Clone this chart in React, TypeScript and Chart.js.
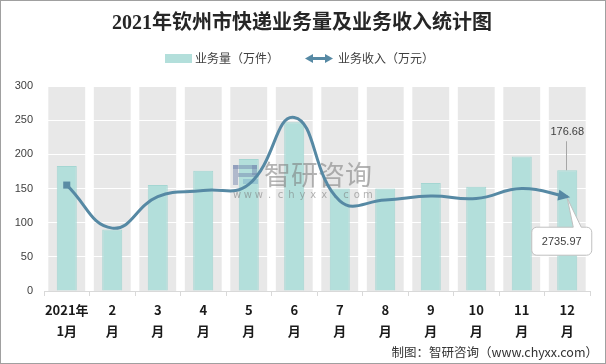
import { useEffect, useRef } from 'react';
import { Chart, registerables } from 'chart.js';

Chart.register(...registerables);

const categories: string[][] = [
  ['2021年', '1月'], ['2', '月'], ['3', '月'], ['4', '月'], ['5', '月'], ['6', '月'],
  ['7', '月'], ['8', '月'], ['9', '月'], ['10', '月'], ['11', '月'], ['12', '月'],
];
const volumeValues = [183, 90, 155, 176, 193, 247, 150, 150, 158, 152.5, 197, 176.68];
const revenueValues = [155, 92, 138, 147, 156, 254, 132, 133, 139, 135.5, 150, 138];
const yMin = 0;
const yMax = 300;
const yStep = 50;

const titleText = '2021年钦州市快递业务量及业务收入统计图';
const volumeLabel = '业务量（万件）';
const revenueLabel = '业务收入（万元）';
const revenueTotalText = '2735.97';
const footerText = '制图：智研咨询（www.chyxx.com）';
const watermarkText = '智研咨询';
const watermarkUrl = 'www.chyxx.com';

const BAR_COLOR = '#B3DFDB';
const BAR_BORDER = '#A4D6D2';
const LINE_COLOR = '#5689A4';
const CJK = "'Noto Sans CJK SC', 'Noto Sans', sans-serif";

function roundRectPath(ctx: CanvasRenderingContext2D, x0: number, y0: number, x1: number, y1: number, r: number, notch?: { a: number; b: number; tx: number; ty: number }) {
  ctx.beginPath();
  ctx.moveTo(x0 + r, y0);
  if (notch) {
    ctx.lineTo(notch.a, y0);
    ctx.lineTo(notch.tx, notch.ty);
    ctx.lineTo(notch.b, y0);
  }
  ctx.lineTo(x1 - r, y0);
  ctx.arcTo(x1, y0, x1, y0 + r, r);
  ctx.lineTo(x1, y1 - r);
  ctx.arcTo(x1, y1, x1 - r, y1, r);
  ctx.lineTo(x0 + r, y1);
  ctx.arcTo(x0, y1, x0, y1 - r, r);
  ctx.lineTo(x0, y0 + r);
  ctx.arcTo(x0, y0, x0 + r, y0, r);
  ctx.closePath();
}

function arrowHead(ctx: CanvasRenderingContext2D, tipX: number, tipY: number, dx: number, dy: number, len: number, half: number) {
  const px = -dy, py = dx;
  ctx.beginPath();
  ctx.moveTo(tipX, tipY);
  ctx.lineTo(tipX - dx * len + px * half, tipY - dy * len + py * half);
  ctx.lineTo(tipX - dx * len - px * half, tipY - dy * len - py * half);
  ctx.closePath();
  ctx.fill();
}

const decorPlugin = {
  id: 'decor',
  beforeDraw(chart: any) {
    const ctx: CanvasRenderingContext2D = chart.ctx;
    const xs = chart.scales.x;
    const { top, bottom } = chart.chartArea;
    const w = (xs.getPixelForValue(1) - xs.getPixelForValue(0)) * 0.81;
    ctx.save();
    ctx.fillStyle = '#E8E8E8';
    categories.forEach((_, i) => {
      const cx = xs.getPixelForValue(i);
      ctx.fillRect(cx - w / 2, top, w, bottom - top);
    });
    ctx.restore();
  },
  afterDatasetDraw(chart: any, args: any) {
    if (args.index !== 1) return;
    const ctx: CanvasRenderingContext2D = chart.ctx;
    ctx.save();
    // watermark logo
    ctx.fillStyle = 'rgba(110,128,170,0.45)';
    ctx.fillRect(233, 165, 24, 4);
    ctx.fillRect(233, 165, 5, 20);
    ctx.fillRect(252, 165, 5, 10);
    ctx.fillRect(238, 173, 19, 4);
    ctx.fillStyle = 'rgba(120,170,200,0.45)';
    ctx.fillRect(243, 179, 15, 5);
    ctx.fillStyle = 'rgba(120,120,120,0.55)';
    ctx.font = `27px ${CJK}`;
    ctx.textBaseline = 'middle';
    ctx.textAlign = 'left';
    ctx.fillText(watermarkText, 264, 175);
    ctx.font = `10px 'DejaVu Sans', sans-serif`;
    ctx.textAlign = 'center';
    const chars = watermarkUrl.split('');
    chars.forEach((c, i) => {
      ctx.fillText(c, 237 + i * 10.9, 195);
    });
    ctx.restore();
  },
  afterDatasetsDraw(chart: any) {
    const ctx: CanvasRenderingContext2D = chart.ctx;
    const lineMeta = chart.getDatasetMeta(0);
    const barMeta = chart.getDatasetMeta(1);
    const n = revenueValues.length;
    const last = lineMeta.data[n - 1];
    const prev = lineMeta.data[n - 2];
    let dx = last.x - (last.cp1x ?? prev.x);
    let dy = last.y - (last.cp1y ?? prev.y);
    if (Math.hypot(dx, dy) < 0.01) { dx = last.x - prev.x; dy = last.y - prev.y; }
    const d = Math.hypot(dx, dy);
    dx /= d; dy /= d;
    ctx.save();
    ctx.fillStyle = LINE_COLOR;
    arrowHead(ctx, last.x + dx * 3, last.y + dy * 3, dx, dy, 12, 5.5);

    // Dec bar value label
    const bar = barMeta.data[n - 1];
    ctx.strokeStyle = '#A6A6A6';
    ctx.lineWidth = 1;
    ctx.beginPath();
    ctx.moveTo(Math.round(bar.x) - 0.5, bar.y - 29);
    ctx.lineTo(Math.round(bar.x) - 0.5, bar.y);
    ctx.stroke();
    ctx.fillStyle = '#404040';
    ctx.font = `11px 'Liberation Sans', Arial, sans-serif`;
    ctx.textAlign = 'center';
    ctx.textBaseline = 'middle';
    ctx.fillText(volumeValues[n - 1].toFixed(2), bar.x, bar.y - 38);

    // revenue callout
    const px = last.x, py = last.y;
    const x0 = px - 35.5, x1 = px + 24.5, y0 = py + 30.5, y1 = py + 58.5;
    roundRectPath(ctx, x0, y0, x1, y1, 5, { a: px + 6, b: px + 14, tx: px, ty: py + 1.5 });
    ctx.fillStyle = '#FFFFFF';
    ctx.fill();
    ctx.strokeStyle = '#C0C0C0';
    ctx.stroke();
    ctx.fillStyle = '#404040';
    ctx.fillText(revenueTotalText, (x0 + x1) / 2, (y0 + y1) / 2 + 0.5);
    ctx.restore();
  },
  afterDraw(chart: any) {
    const ctx: CanvasRenderingContext2D = chart.ctx;
    ctx.save();
    // title
    ctx.fillStyle = '#262626';
    ctx.font = `bold 20px 'Liberation Serif', ${CJK}`;
    ctx.textAlign = 'center';
    ctx.textBaseline = 'middle';
    ctx.fillText(titleText, 302, 24);

    // legend
    ctx.fillStyle = BAR_COLOR;
    ctx.fillRect(165, 54, 27, 9);
    ctx.fillStyle = '#404040';
    ctx.font = `12px ${CJK}`;
    ctx.textAlign = 'left';
    ctx.fillText(volumeLabel, 195, 58.5);
    ctx.strokeStyle = LINE_COLOR;
    ctx.lineWidth = 3;
    ctx.beginPath();
    ctx.moveTo(311, 58.5);
    ctx.lineTo(327, 58.5);
    ctx.stroke();
    ctx.fillStyle = LINE_COLOR;
    arrowHead(ctx, 333, 58.5, 1, 0, 8, 4.5);
    arrowHead(ctx, 305, 58.5, -1, 0, 8, 4.5);
    ctx.fillStyle = '#404040';
    ctx.fillText(revenueLabel, 338, 58.5);

    // footer
    ctx.textAlign = 'right';
    ctx.fillStyle = '#333333';
    ctx.font = `12.5px ${CJK}`;
    ctx.fillText(footerText, 598, 352.5);

    // frame
    ctx.strokeStyle = '#A0A0A0';
    ctx.lineWidth = 1;
    ctx.strokeRect(0.5, 0.5, 605, 363);
    ctx.restore();
  },
};

export default function App() {
  const canvasRef = useRef<HTMLCanvasElement | null>(null);

  useEffect(() => {
    document.body.style.margin = '0';
    const canvas = canvasRef.current;
    if (!canvas) return;
    const chart = new Chart(canvas, {
      type: 'bar',
      data: {
        labels: categories,
        datasets: [
          {
            type: 'line',
            label: revenueLabel,
            data: revenueValues,
            order: 0,
            borderColor: LINE_COLOR,
            borderWidth: 3,
            tension: 0.45,
            fill: false,
            pointStyle: 'rect',
            pointRadius: (c: any) => (c.dataIndex === 0 ? 5 : 0),
            pointHoverRadius: 0,
            pointBackgroundColor: '#5B8CA4',
            pointBorderWidth: 0,
          } as any,
          {
            type: 'bar',
            label: volumeLabel,
            data: volumeValues,
            order: 1,
            backgroundColor: BAR_COLOR,
            borderColor: BAR_BORDER,
            borderWidth: 1,
            barPercentage: 0.44,
            categoryPercentage: 1,
          },
        ],
      },
      plugins: [decorPlugin],
      options: {
        responsive: false,
        animation: false,
        events: [],
        layout: { padding: { left: 8, right: 16, top: 86, bottom: 23 } },
        plugins: {
          legend: { display: false },
          title: { display: false },
          tooltip: { enabled: false },
        },
        scales: {
          x: {
            offset: true,
            grid: { offset: true, drawOnChartArea: false, tickLength: 5, color: '#D9D9D9' },
            border: { color: '#D9D9D9' },
            ticks: {
              autoSkip: false,
              maxRotation: 0,
              padding: 4,
              color: '#1A1A1A',
              font: { family: CJK, size: 13, weight: 'bold', lineHeight: 21 / 13 },
            },
            afterFit: (s: any) => { s.height = 50; },
          },
          y: {
            min: yMin,
            max: yMax,
            ticks: {
              stepSize: yStep,
              padding: 11,
              color: '#404040',
              font: { family: "'Liberation Sans', Arial, sans-serif", size: 11 },
            },
            grid: {
              drawTicks: false,
              color: (c: any) => (c.tick && c.tick.value === 0 ? 'rgba(0,0,0,0)' : '#FFFFFF'),
            },
            border: { display: false },
            afterFit: (s: any) => { s.width = 36; },
          },
        },
      },
    });
    return () => chart.destroy();
  }, []);

  return (
    <div style={{ position: 'absolute', left: 0, top: 0 }}>
      <canvas ref={canvasRef} width={606} height={364} style={{ display: 'block' }} />
    </div>
  );
}
